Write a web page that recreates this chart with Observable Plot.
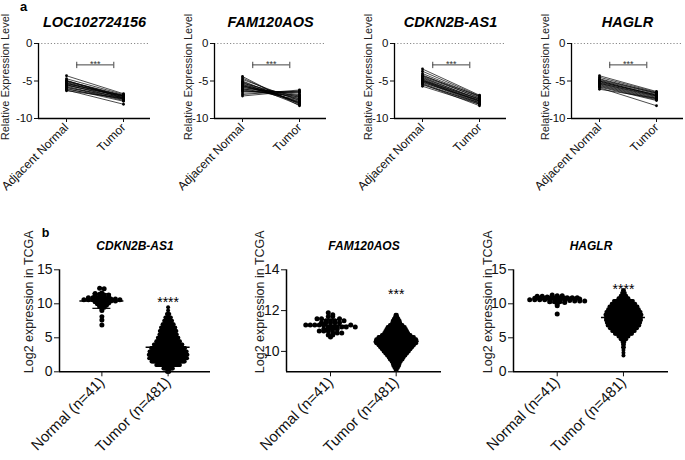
<!DOCTYPE html>
<html><head><meta charset="utf-8">
<script src="https://cdn.jsdelivr.net/npm/d3@7"></script>
<script src="https://cdn.jsdelivr.net/npm/@observablehq/plot@0.6"></script>
<style>
body{margin:0;background:#fff;}
#root{position:relative;width:685px;height:460px;overflow:hidden;background:#fff;}
#root svg{position:absolute;overflow:visible;}
</style></head><body><div id="root"></div>
<script>
// ---------------- DATA: panel a (paired qPCR) ----------------
const pairedGroups = ["Adjacent Normal", "Tumor"];
const pairedTitles = ["LOC102724156", "FAM120AOS", "CDKN2B-AS1", "HAGLR"];
const pairedYLabel = "Relative Expression Level";
const pairedYTicks = [0, -5, -10];
const pairedStars = "***";
const locNormal = [-4.3,-4.7,-4.9,-5.0,-5.1,-5.2,-5.3,-5.4,-5.5,-5.5,-5.6,-5.7,-5.8,-5.9,-6.0,-6.1,-6.2,-6.3,-5.3,-5.0];
const locTumor  = [-6.7,-6.8,-7.3,-6.9,-7.0,-7.1,-7.2,-6.9,-7.3,-7.4,-7.0,-7.5,-7.6,-7.2,-7.7,-7.4,-8.1,-7.3,-7.1,-7.0];
const famNormal = [-4.4,-4.6,-4.8,-5.0,-5.1,-5.3,-5.4,-5.5,-5.6,-5.7,-5.8,-5.9,-6.0,-6.1,-6.2,-6.3,-6.4,-6.6,-6.8,-7.0,-5.2,-5.6];
const famTumor  = [-8.3,-8.1,-7.6,-8.0,-7.9,-7.2,-7.8,-7.4,-7.7,-7.0,-7.3,-6.8,-7.5,-6.6,-7.1,-6.9,-6.4,-6.5,-6.2,-6.3,-8.2,-7.9];
const cdkNormal = [-3.4,-3.7,-4.0,-4.2,-4.4,-4.5,-4.6,-4.7,-4.8,-4.9,-5.0,-5.1,-5.2,-5.3,-5.4,-5.5,-5.7,-4.3,-4.9,-5.0];
const cdkTumor  = [-6.9,-7.0,-7.1,-7.3,-7.2,-7.5,-7.4,-7.6,-7.7,-7.8,-7.9,-8.0,-7.6,-8.1,-8.3,-7.9,-8.1,-7.0,-7.4,-7.7];
const hagNormal = [-4.3,-4.5,-4.7,-4.9,-5.0,-5.1,-5.2,-5.3,-5.4,-5.5,-5.6,-5.7,-5.8,-5.9,-6.1,-5.0,-5.3,-4.8];
const hagTumor  = [-6.4,-6.5,-6.6,-6.7,-6.9,-7.0,-6.8,-7.1,-7.2,-7.3,-7.4,-7.5,-7.6,-8.3,-7.3,-6.9,-7.0,-6.6];
const pairedNormals = [locNormal, famNormal, cdkNormal, hagNormal];
const pairedTumors = [locTumor, famTumor, cdkTumor, hagTumor];

// ---------------- DATA: panel b (TCGA) ----------------
const tcgaGroups = ["Normal (n=41)", "Tumor (n=481)"];
const tcgaTitles = ["CDKN2B-AS1", "FAM120AOS", "HAGLR"];
const tcgaYLabel = "Log2 expression in TCGA";
const tcgaYTicks = [[0, 5, 10, 15], [10, 12, 14], [0, 5, 10, 15]];
const tcgaYDomains = [[0, 15], [9, 14], [0, 15]];
const tcgaStars = ["****", "***", "****"];
const tcgaStarY = [10.25, 12.8, 12.15];
const cdkTcgaNormal = [12.3,12.2,11.6,11.5,11.4,11.3,11.3,11.2,11.1,11.0,11.0,10.9,10.9,10.8,10.8,10.7,10.7,10.7,10.6,10.6,10.6,10.5,10.5,10.5,10.4,10.4,10.3,10.3,10.2,10.1,10.0,9.9,9.8,9.6,9.5,9.3,9.0,8.1,7.6,6.9,10.6];
const cdkTcgaTumorLevels = [0.0,0.5,1.0,1.5,2.0,2.5,3.0,3.5,4.0,4.5,5.0,5.5,6.0,6.5,7.0,7.5,8.0,8.5,9.0,9.5];
const cdkTcgaTumorCounts = [4,13,31,43,49,50,48,44,37,31,27,23,22,19,15,11,8,4,1,1];
const famTcgaNormal = [11.9,11.8,11.7,11.7,11.6,11.6,11.5,11.5,11.5,11.4,11.4,11.4,11.4,11.3,11.3,11.3,11.3,11.3,11.2,11.2,11.2,11.2,11.2,11.1,11.1,11.1,11.1,11.0,11.0,11.0,10.9,10.9,10.9,10.8,10.8,10.7,11.6,11.5,11.4,11.3,11.2];
const famTcgaTumorLevels = [9.1,9.2,9.3,9.4,9.5,9.6,9.7,9.8,9.9,10.0,10.1,10.2,10.3,10.4,10.5,10.6,10.7,10.8,10.9,11.0,11.1,11.2,11.3,11.4,11.5,11.6,11.7,11.8];
const famTcgaTumorCounts = [2,4,6,7,9,12,14,17,20,23,26,29,32,36,37,36,32,26,22,20,18,16,12,8,7,5,3,2];
const hagTcgaNormal = [11.3,11.2,11.2,11.1,11.1,11.0,11.0,11.0,10.9,10.9,10.9,10.9,10.8,10.8,10.8,10.8,10.8,10.7,10.7,10.7,10.7,10.7,10.6,10.6,10.6,10.6,10.6,10.5,10.5,10.5,10.5,10.4,10.4,10.4,10.3,10.3,10.3,10.2,10.0,9.7,8.5];
const hagTcgaTumorLevels = [2.4,2.8,3.2,3.6,4.0,4.4,4.8,5.2,5.6,6.0,6.4,6.8,7.2,7.6,8.0,8.4,8.8,9.2,9.6,10.0,10.4,10.8,11.2,11.6,12.0];
const hagTcgaTumorCounts = [1,1,1,2,2,3,7,12,20,26,31,36,38,40,40,41,39,35,32,27,22,12,7,4,2];
const tcgaNormals = [cdkTcgaNormal, famTcgaNormal, hagTcgaNormal];
const tcgaTumorLevels = [cdkTcgaTumorLevels, famTcgaTumorLevels, hagTcgaTumorLevels];
const tcgaTumorCounts = [cdkTcgaTumorCounts, famTcgaTumorCounts, hagTcgaTumorCounts];

// ---------------- LAYOUT / STYLE ----------------
const FONT = 'Arial, "Liberation Sans", Helvetica, sans-serif';
const root = document.getElementById("root");
const pairedLayout = [
  {left: 0, ylabDx: -33},
  {left: 176, ylabDx: -26},
  {left: 356, ylabDx: -26},
  {left: 533, ylabDx: -26}
];
const tcgaLayout = [
  {left: 0, plotW: 151, xDom: [-0.64, 1.64], ylabDx: -31, normalBin: 0.3, normalStep: 4.5, tumorStep: 0.79},
  {left: 227, plotW: 155, xDom: [-0.67, 1.69], ylabDx: -27, normalBin: 0.15, normalStep: 4.5, tumorStep: 1.14},
  {left: 454, plotW: 155, xDom: [-0.66, 1.68], ylabDx: -26, normalBin: 0.25, normalStep: 5, tumorStep: 0.9}
];
const bracket = {x1: 0.18, x2: 0.83, y: -2.85, yTop: -2.5, yBot: -3.35};

function place(svg, left, top) {
  svg.style.left = left + "px";
  svg.style.top = top + "px";
  root.appendChild(svg);
}
const centered = {textAnchor: "middle", lineAnchor: "middle"};

// ---------- panel a ----------
pairedTitles.forEach((title, k) => {
  const L = pairedLayout[k];
  const mL = 38, mT = 43, mB = 75, mR = 8, W = 112, H = 75;
  const xDom = [-28 / 57, 1 + 27 / 57];
  const yDom = [-10, 0];
  const normal = pairedNormals[k], tumor = pairedTumors[k];
  const pairs = normal.map((n, i) => ({n, t: tumor[i], a: 0, b: 1}));
  const ends = pairs.flatMap(p => [{x: p.a, y: p.n}, {x: p.b, y: p.t}]);
  const marks = [
    Plot.ruleY([yDom[1]], {stroke: "#8a8a8a", strokeDasharray: "1.2,2", strokeWidth: 1}),
    Plot.link(pairs, {x1: "a", x2: "b", y1: "n", y2: "t", stroke: "#000", strokeWidth: 0.7}),
    Plot.dot(ends, {x: "x", y: "y", r: 1.4, fill: "#000"}),
    Plot.ruleY([yDom[0]], {stroke: "#000", strokeWidth: 1.3}),
    Plot.ruleX([xDom[0]], {stroke: "#000", strokeWidth: 1.3}),
    Plot.axisY({ticks: pairedYTicks, tickFormat: d => String(d), tickSize: 4, tickPadding: 2, fontSize: 11.5, label: null}),
    Plot.axisX({ticks: [0, 1], tickFormat: i => pairedGroups[i], tickRotate: -45, tickSize: 4, tickPadding: 3, fontSize: 12, label: null}),
    Plot.ruleY([bracket.y], {x1: bracket.x1, x2: bracket.x2, stroke: "#444", strokeWidth: 1}),
    Plot.ruleX([bracket.x1, bracket.x2], {y1: bracket.yTop, y2: bracket.yBot, stroke: "#444", strokeWidth: 1}),
    Plot.text([pairedStars], {x: (bracket.x1 + bracket.x2) / 2, y: bracket.y, dy: -1, fontSize: 9, fill: "#333"}),
    Plot.text([pairedYLabel], {frameAnchor: "left", ...centered, rotate: -90, dx: L.ylabDx, dy: -4, fontSize: 11, fill: "#222"}),
    Plot.text([title], {frameAnchor: "top", ...centered, dy: -21, fontSize: 14.5, fontWeight: "bold", fontStyle: "italic", fill: "#000"})
  ];
  if (k === 0) marks.push(Plot.text(["a"], {frameAnchor: "top-left", ...centered, dx: -15, dy: -37, fontSize: 13, fontWeight: "bold", fill: "#000"}));
  const svg = Plot.plot({
    width: mL + W + mR, height: mT + H + mB,
    marginLeft: mL, marginRight: mR, marginTop: mT, marginBottom: mB,
    style: {fontFamily: FONT, color: "#111", background: "transparent", overflow: "visible"},
    x: {type: "linear", domain: xDom},
    y: {domain: yDom},
    marks
  });
  place(svg, L.left, 0);
});

// ---------- panel b ----------
function rowsFromValues(values, bin, center, stepUnits) {
  const groups = d3.group(values, v => Math.round(v / bin));
  const out = [];
  for (const [, vs] of groups) {
    vs.forEach((v, j) => out.push({x: center + (j - (vs.length - 1) / 2) * stepUnits, y: v}));
  }
  return out;
}
function rowsFromCounts(levels, counts, center, stepUnits) {
  return levels.flatMap((y, i) => d3.range(counts[i]).map(j => ({x: center + (j - (counts[i] - 1) / 2) * stepUnits, y})));
}

tcgaTitles.forEach((title, k) => {
  const L = tcgaLayout[k];
  const mL = 59, mT = 49.3, mB = 90, mR = 10, W = L.plotW, H = 102;
  const xDom = L.xDom, yDom = tcgaYDomains[k];
  const ppu = W / (xDom[1] - xDom[0]);
  const normal = tcgaNormals[k];
  const levels = tcgaTumorLevels[k], counts = tcgaTumorCounts[k];
  const nPts = rowsFromValues(normal, L.normalBin, 0, L.normalStep / ppu);
  const tPts = rowsFromCounts(levels, counts, 1, L.tumorStep / ppu);
  const nMean = d3.mean(normal), nSD = d3.deviation(normal);
  const tN = d3.sum(counts);
  const tMean = d3.sum(levels, (y, i) => y * counts[i]) / tN;
  const tSD = Math.sqrt(d3.sum(levels, (y, i) => counts[i] * (y - tMean) ** 2) / (tN - 1));
  const stats = [{c: 0, m: nMean, lo: nMean - nSD, hi: nMean + nSD}, {c: 1, m: tMean, lo: tMean - tSD, hi: tMean + tSD}];
  const caps = stats.flatMap(s => [{c: s.c, y: s.lo}, {c: s.c, y: s.hi}]);
  const half = 22 / ppu, capHalf = 9 / ppu;
  const marks = [
    Plot.dot(nPts, {x: "x", y: "y", r: 2.5, fill: "#000"}),
    Plot.dot(tPts, {x: "x", y: "y", r: 2, fill: "#000"}),
    Plot.ruleY(stats, {y: "m", x1: d => d.c - half, x2: d => d.c + half, stroke: "#000", strokeWidth: 1.5}),
    Plot.ruleX(stats, {x: "c", y1: "lo", y2: "hi", stroke: "#000", strokeWidth: 1.2}),
    Plot.ruleY(caps, {y: "y", x1: d => d.c - capHalf, x2: d => d.c + capHalf, stroke: "#000", strokeWidth: 1.2}),
    Plot.ruleY([yDom[0]], {stroke: "#000", strokeWidth: 1.5}),
    Plot.ruleX([xDom[0]], {stroke: "#000", strokeWidth: 1.5}),
    Plot.axisY({ticks: tcgaYTicks[k], tickFormat: d => String(d), tickSize: 5, tickPadding: 2, fontSize: 14, label: null}),
    Plot.axisX({ticks: [0, 1], tickFormat: i => tcgaGroups[i], tickRotate: -45, tickSize: 5, tickPadding: 3, fontSize: 15, label: null}),
    Plot.text([tcgaStars[k]], {x: 1, y: tcgaStarY[k], fontSize: 14, fill: "#000"}),
    Plot.text([tcgaYLabel], {frameAnchor: "left", ...centered, rotate: -90, dx: L.ylabDx, dy: -19, fontSize: 12.5, fill: "#222"}),
    Plot.text([title], {frameAnchor: "top", ...centered, dy: -24, fontSize: 12, fontWeight: "bold", fontStyle: "italic", fill: "#000"})
  ];
  if (k === 0) marks.push(Plot.text(["b"], {frameAnchor: "top-left", ...centered, dx: -14, dy: -37, fontSize: 12.5, fontWeight: "bold", fill: "#000"}));
  const svg = Plot.plot({
    width: mL + W + mR, height: mT + H + mB,
    marginLeft: mL, marginRight: mR, marginTop: mT, marginBottom: mB,
    style: {fontFamily: FONT, color: "#111", background: "transparent", overflow: "visible"},
    x: {type: "linear", domain: xDom},
    y: {domain: yDom},
    marks
  });
  place(svg, L.left, 220);
});
</script></body></html>
